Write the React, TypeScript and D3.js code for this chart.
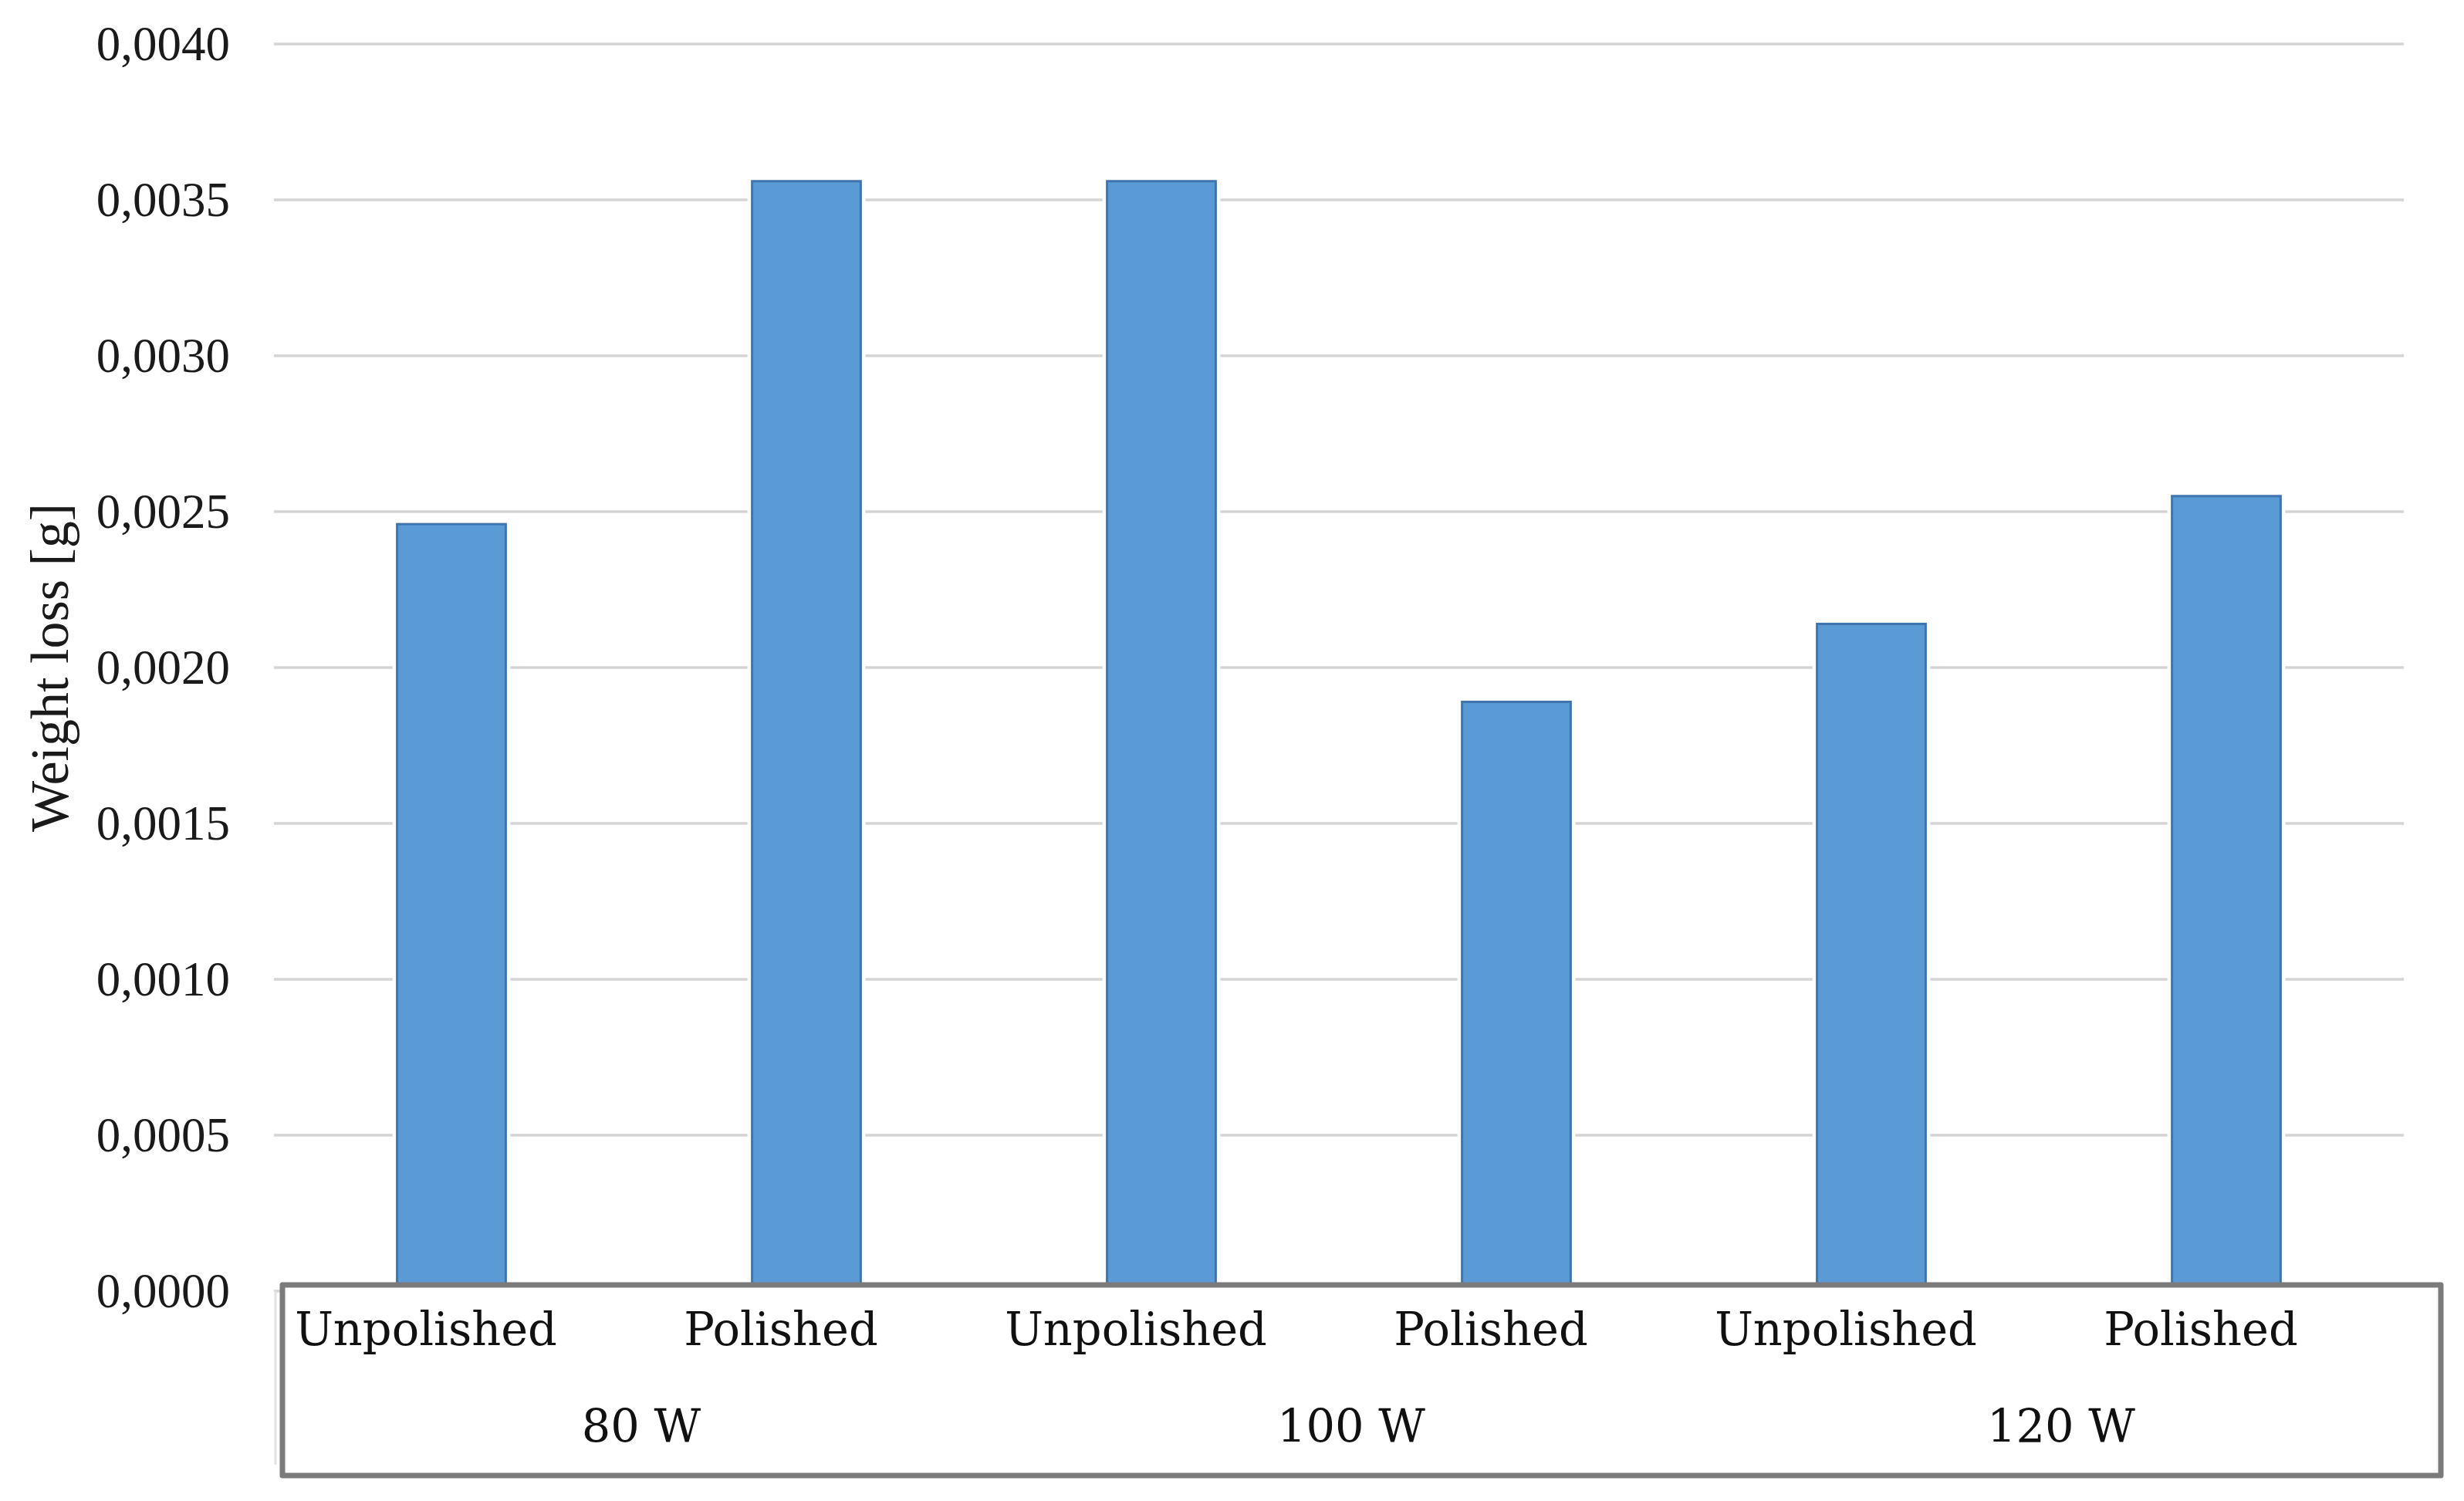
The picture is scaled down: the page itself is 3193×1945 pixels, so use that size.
import React from "react";
import * as d3 from "d3";

const categories = ["Unpolished", "Polished", "Unpolished", "Polished", "Unpolished", "Polished"];
const groups = ["80 W", "100 W", "120 W"];
const values = [0.00246, 0.00356, 0.00356, 0.00189, 0.00214, 0.00255];
const yTicks = [0, 0.0005, 0.001, 0.0015, 0.002, 0.0025, 0.003, 0.0035, 0.004];
const yTitle = "Weight loss [g]";

const W = 3193;
const H = 1945;
const plot = { left: 355, right: 3115, top: 57, bottom: 1673 };
const box = { x0: 366, x1: 3163, y0: 1665, y1: 1912 };

export default function App() {
  const idx = categories.map((_, i) => String(i));
  const x = d3
    .scaleBand<string>()
    .domain(idx)
    .range([plot.left, plot.right])
    .paddingInner(0.694)
    .paddingOuter(0.347);
  const y = d3.scaleLinear().domain([0, 0.004]).range([plot.bottom, plot.top]);
  const fmt = (v: number) => d3.format(".4f")(v).replace(".", ",");
  const center = (i: number) => (x(String(i)) as number) + x.bandwidth() / 2;

  return (
    <svg
      width={W}
      height={H}
      viewBox={`0 0 ${W} ${H}`}
      style={{ position: "absolute", left: 0, top: 0, background: "#fff" }}
    >
      <rect x={0} y={0} width={W} height={H} fill="#fff" />
      {yTicks.map((t) => (
        <line
          key={"g" + t}
          x1={plot.left}
          x2={plot.right}
          y1={y(t)}
          y2={y(t)}
          stroke="#d4d4d4"
          strokeWidth={3.5}
        />
      ))}
      {yTicks.map((t) => (
        <text
          key={"t" + t}
          x={298}
          y={y(t)}
          dy="0.33em"
          textAnchor="end"
          fontFamily="'Liberation Serif', 'Times New Roman', serif"
          fontSize={63}
          fill="#1a1a1a"
        >
          {fmt(t)}
        </text>
      ))}
      <text
        transform={`translate(88, ${(plot.top + plot.bottom) / 2}) rotate(-90)`}
        textAnchor="middle"
        fontFamily="'Liberation Serif', 'Times New Roman', serif"
        fontSize={70}
        fill="#1a1a1a"
      >
        {yTitle}
      </text>
      {values.map((v, i) => (
        <g key={"b" + i}>
          <rect
            x={x(String(i)) as number}
            y={y(v)}
            width={x.bandwidth()}
            height={plot.bottom - y(v)}
            fill="none"
            stroke="#ffffff"
            strokeWidth={12}
          />
          <rect
            x={x(String(i)) as number}
            y={y(v)}
            width={x.bandwidth()}
            height={plot.bottom - y(v)}
            fill="#5b9bd5"
            stroke="#3f74ad"
            strokeWidth={3}
          />
        </g>
      ))}
      <line x1={357} x2={357} y1={plot.bottom} y2={1898} stroke="#e2e2e2" strokeWidth={3} />
      <rect
        x={box.x0}
        y={box.y0}
        width={box.x1 - box.x0}
        height={box.y1 - box.y0}
        fill="#fff"
        stroke="#7b7b7b"
        strokeWidth={7}
        strokeLinejoin="round"
      />
      {categories.map((c, i) => (
        <text
          key={"c" + i}
          x={center(i) - 33}
          y={1743}
          textAnchor="middle"
          fontFamily="'DejaVu Serif', serif"
          fontSize={59}
          fill="#111"
        >
          {c}
        </text>
      ))}
      {groups.map((g, gi) => (
        <text
          key={"gr" + gi}
          x={(center(gi * 2) + center(gi * 2 + 1)) / 2 + 16}
          y={1869}
          textAnchor="middle"
          fontFamily="'DejaVu Serif', serif"
          fontSize={59}
          fill="#111"
        >
          {g}
        </text>
      ))}
    </svg>
  );
}
